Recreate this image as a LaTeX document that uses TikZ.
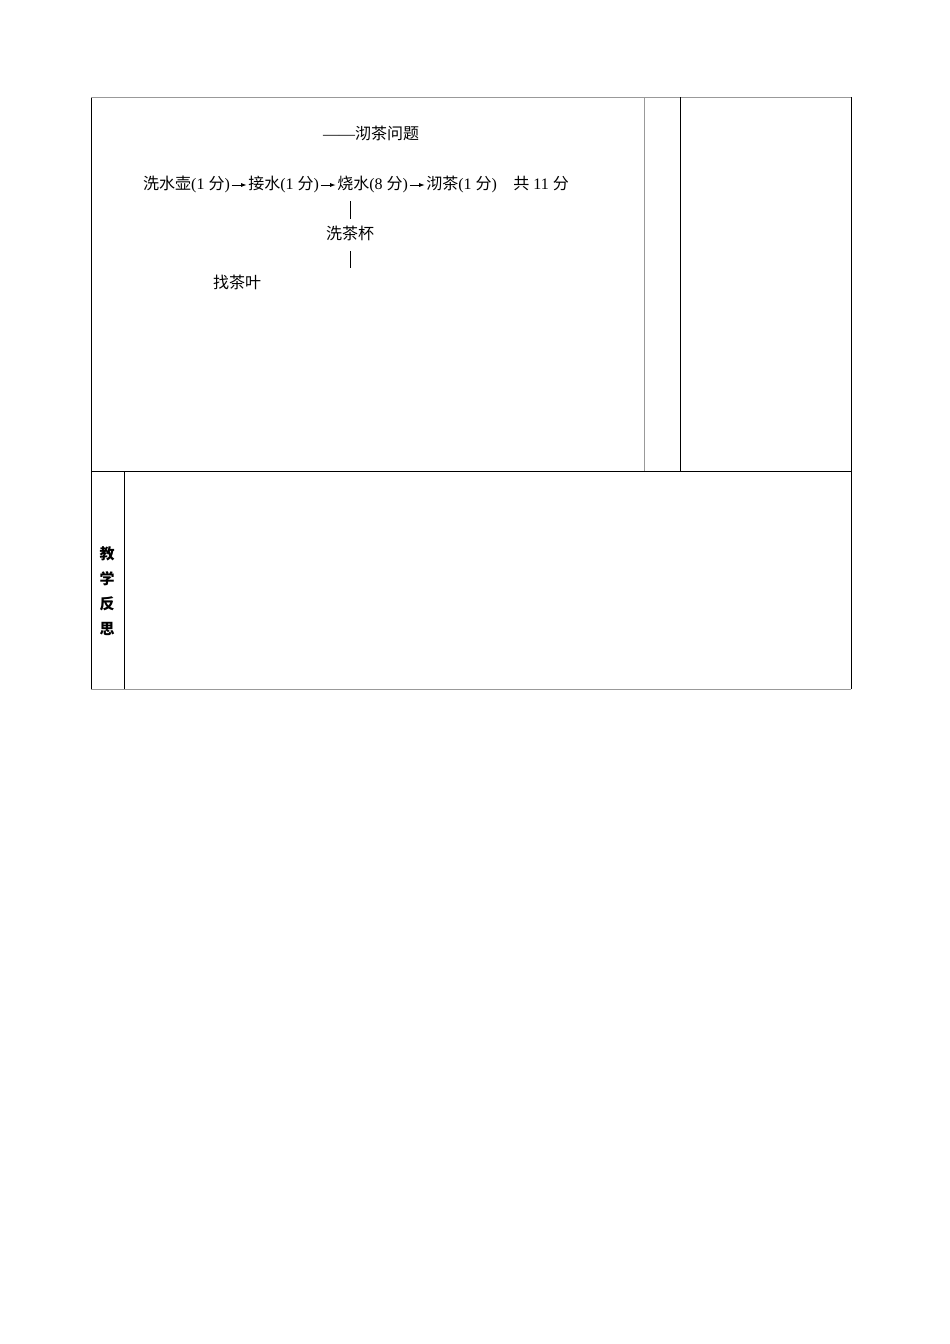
\documentclass[tikz,border=0pt]{standalone}
\usepackage{fontspec}
\setmainfont{Liberation Serif}
\newfontfamily\zhfont{Noto Sans CJK SC}
\usetikzlibrary{positioning,arrows.meta}
\newcommand\zh[1]{{\zhfont #1}}

\begin{document}
\begin{tikzpicture}[x=1pt, y=-1pt,
    txt/.style   = {inner sep=1pt, text height=11pt, text depth=3pt, font=\fontsize{16}{19}\selectfont},
    flow/.style  = {-{Latex[length=5.5pt, width=4pt]}, line width=0.7pt, shorten <=0.5pt, shorten >=0.5pt},
    bar/.style   = {line width=0.5pt, shorten <=8pt, shorten >=8pt},
    rule/.style  = {line width=0.8pt},
    faint/.style = {line width=1pt, draw=gray!80}
  ]
  \useasboundingbox (0,0) rectangle (950,1344);

  % table frame
  \draw[rule]  (91,97)   -- (91,689);
  \draw[rule]  (851,97)  -- (851,689);
  \draw[faint] (91,97)   -- (851,97);
  \draw[rule]  (91,471)  -- (851,471);
  \draw[faint] (91,689)  -- (851,689);
  \draw[faint] (644,97)  -- (644,471);
  \draw[rule]  (680,97)  -- (680,471);
  \draw[rule]  (124,471) -- (124,689);

  % tea problem
  \node (title)  [txt] at (371,135)               {——\zh{沏茶问题}};
  \node (wash)   [txt, anchor=west] at (142,185)  {\zh{洗水壶}(1 \zh{分})};
  \node (fill)   [txt, right=16pt of wash]        {\zh{接水}(1 \zh{分})};
  \node (boil)   [txt, right=16pt of fill]        {\zh{烧水}(8 \zh{分})};
  \node (brew)   [txt, right=16pt of boil]        {\zh{沏茶}(1 \zh{分})};
  \node (total)  [txt, right=14pt of brew]        {\zh{共} 11 \zh{分}};
  \node (cups)   [txt] at (350,235)               {\zh{洗茶杯}};
  \node (leaves) [txt] at (237,284)               {\zh{找茶叶}};

  \draw[flow] (wash) -- (fill);
  \draw[flow] (fill) -- (boil);
  \draw[flow] (boil) -- (brew);
  \draw[bar]  (cups |- boil.south) -- (cups.north);
  \draw[bar]  (cups.south) -- (cups |- leaves.north);

  % reflection
  \node (reflect) [align=center, inner sep=0pt, font=\zhfont\bfseries\fontsize{15}{25}\selectfont] at (107,591) {教\\学\\反\\思};
\end{tikzpicture}
\end{document}
